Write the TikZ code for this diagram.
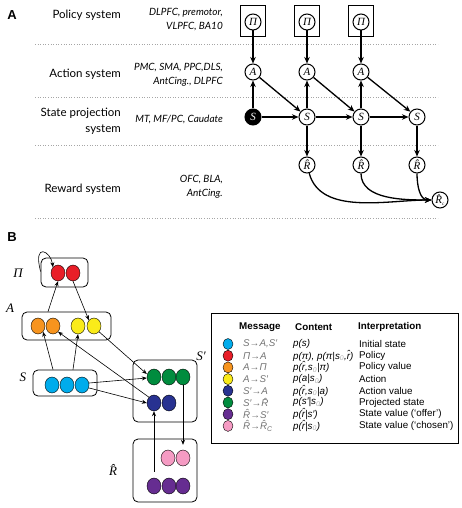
\documentclass[tikz,border=0pt]{standalone}
\usepackage{fontspec}
\setmainfont{Liberation Sans}
\newfontfamily\gillfont{Lato}
\newfontfamily\tms{Liberation Serif}
\usetikzlibrary{arrows.meta,shapes.geometric,calc}
\definecolor{cblue}{RGB}{0,172,236}
\definecolor{cred}{RGB}{232,30,40}
\definecolor{corange}{RGB}{247,148,30}
\definecolor{cyellow}{RGB}{250,235,25}
\definecolor{cdblue}{RGB}{40,50,145}
\definecolor{cgreen}{RGB}{0,140,62}
\definecolor{cpurple}{RGB}{102,45,145}
\definecolor{cpink}{RGB}{245,155,195}
\newcommand\zs{\textsubscript{\color{gray!60}0}}
\begin{document}
\begin{tikzpicture}[x=1pt,y=-1pt,
  var/.style={circle,draw,line width=1pt,minimum size=16pt,inner sep=0pt,fill=white,font=\tms\itshape\fontsize{11}{11}\selectfont},
  pibox/.style={draw,line width=0.8pt,minimum width=25pt,minimum height=31pt,inner sep=0pt},
  arrA/.style={line width=1.3pt,-{Stealth[length=6.5pt,width=5.5pt]}},
  sepline/.style={gray!70,dotted,line width=0.6pt},
  sys/.style={font=\gillfont\fontsize{11.5}{16}\selectfont,align=right,anchor=east,inner sep=0pt},
  reg/.style={font=\gillfont\itshape\fontsize{10}{14}\selectfont,align=right,anchor=east,inner sep=0pt},
  panel/.style={font=\bfseries\fontsize{13}{13}\selectfont,inner sep=0pt},
  grp/.style={draw,rounded corners=5pt,line width=0.8pt,inner sep=0pt},
  dot/.style={ellipse,draw=black,line width=0.4pt,minimum width=14pt,minimum height=16pt,inner sep=0pt},
  ldot/.style={ellipse,draw=black,line width=0.4pt,minimum width=10pt,minimum height=11pt,inner sep=0pt},
  arrB/.style={line width=0.6pt,-{Stealth[length=5pt,width=4pt]}},
  blbl/.style={font=\tms\itshape\fontsize{13}{13}\selectfont,inner sep=0pt},
  lhead/.style={font=\bfseries\fontsize{9.8}{11}\selectfont,anchor=west,inner sep=0pt},
  lmsg/.style={font=\itshape\fontsize{9.8}{11}\selectfont,text=gray!90!black,anchor=west,inner sep=0pt},
  lcon/.style={font=\itshape\fontsize{9.8}{11}\selectfont,anchor=west,inner sep=0pt},
  lint/.style={font=\fontsize{9.8}{11}\selectfont,anchor=west,inner sep=0pt}
]
\useasboundingbox (0,0) rectangle (461,508);

% ---------------- Panel A ----------------
\node[panel] (pA) at (12,15) {A};

\node[sys] (t1) at (121,15) {Policy system};
\node[reg] (g1) at (223,20) {DLPFC, premotor,\\VLPFC, BA10};
\node[sys] (t2) at (121,74) {Action system};
\node[reg] (g2) at (223,75) {PMC, SMA, PPC,DLS,\\AntCing., DLPFC};
\node[sys] (t3) at (121,121) {State projection\\system};
\node[reg] (g3) at (223,119) {MT, MF/PC, Caudate};
\node[sys] (t4) at (121,189) {Reward system};
\node[reg] (g4) at (223,187) {OFC, BLA,\\AntCing.};

\coordinate (l1a) at (35,44);  \coordinate (l1b) at (438,44);
\coordinate (l2a) at (35,97);  \coordinate (l2b) at (438,97);
\coordinate (l3a) at (35,145); \coordinate (l3b) at (438,145);
\coordinate (l4a) at (35,218); \coordinate (l4b) at (438,218);
\draw[sepline] (l1a) -- (l1b);
\draw[sepline] (l2a) -- (l2b);
\draw[sepline] (l3a) -- (l3b);
\draw[sepline] (l4a) -- (l4b);

\node[pibox] (b1) at (253,21) {};
\node[pibox] (b2) at (307,21) {};
\node[pibox] (b3) at (361,21) {};
\node[var] (p1) at (253,22) {Π};
\node[var] (p2) at (307,22) {Π};
\node[var] (p3) at (361,22) {Π};

\node[var] (a1) at (253,72) {A};
\node[var] (a2) at (307,72) {A};
\node[var] (a3) at (361,72) {A};

\node[var,fill=black,text=white] (s1) at (253,117) {S};
\node[var] (s2) at (307,117) {S};
\node[var] (s3) at (361,117) {S};
\node[var] (s4) at (417,117) {S};

\node[var] (r1) at (307,165) {R̂};
\node[var] (r2) at (361,165) {R̂};
\node[var] (r3) at (417,165) {R̂};
\node[var] (rc) at (440,200) {R̂\textsubscript{\fontsize{5}{5}\selectfont c}};

\draw[arrA] (p1) -- (a1);
\draw[arrA] (p2) -- (a2);
\draw[arrA] (p3) -- (a3);
\draw[arrA] (s1) -- (a1);
\draw[arrA] (s2) -- (a2);
\draw[arrA] (s3) -- (a3);
\draw[arrA] (a1) -- (s2);
\draw[arrA] (a2) -- (s3);
\draw[arrA] (a3) -- (s4);
\draw[arrA] (s1) -- (s2);
\draw[arrA] (s2) -- (s3);
\draw[arrA] (s3) -- (s4);
\draw[arrA] (s2) -- (r1);
\draw[arrA] (s3) -- (r2);
\draw[arrA] (s4) -- (r3);
\draw[arrA] (r1) to[out=-75,in=180,looseness=0.9] (rc);
\draw[arrA] (r2) to[out=-90,in=180,looseness=0.9] (rc);
\draw[arrA] (r3) to[out=-90,in=180,looseness=1] (rc);

% ---------------- Panel B ----------------
\node[panel] (pB) at (12,237) {B};

\node[grp,minimum width=47pt,minimum height=29pt] (PiB) at (64.5,272.5) {};
\node[grp,minimum width=89pt,minimum height=28pt] (AB) at (66.5,326) {};
\node[grp,minimum width=64pt,minimum height=26pt] (SB) at (65,383) {};
\node[grp,minimum width=64pt,minimum height=62pt] (SpB) at (165,391) {};
\node[grp,minimum width=64pt,minimum height=63pt] (RB) at (165,470.5) {};

\node[blbl] (lPi) at (18,273) {Π};
\node[blbl] (lA) at (10,308) {A};
\node[blbl] (lS) at (23,377) {S};
\node[blbl] (lSp) at (201,356) {S′};
\node[blbl] (lR) at (113,470) {R̂};

\node[dot,fill=cred] (rd1) at (58,273) {};
\node[dot,fill=cred] (rd2) at (73,273) {};
\node[dot,fill=corange] (or1) at (38,326) {};
\node[dot,fill=corange] (or2) at (53,326) {};
\node[dot,fill=cyellow] (ye1) at (78,326) {};
\node[dot,fill=cyellow] (ye2) at (94,326) {};
\node[dot,fill=cblue] (bl1) at (52,385) {};
\node[dot,fill=cblue] (bl2) at (67,385) {};
\node[dot,fill=cblue] (bl3) at (82,385) {};
\node[dot,fill=cgreen] (gr1) at (154,377) {};
\node[dot,fill=cgreen] (gr2) at (169,377) {};
\node[dot,fill=cgreen] (gr3) at (183,377) {};
\node[dot,fill=cdblue] (db1) at (154,403) {};
\node[dot,fill=cdblue] (db2) at (169,403) {};
\node[dot,fill=cpink] (pk1) at (168,458) {};
\node[dot,fill=cpink] (pk2) at (183,458) {};
\node[dot,fill=cpurple] (pu1) at (154,486) {};
\node[dot,fill=cpurple] (pu2) at (169,486) {};
\node[dot,fill=cpurple] (pu3) at (183,486) {};

\draw[arrB] ([yshift=1pt]PiB.west) .. controls +(-8,-30) and +(-2,-16) .. (rd1.north west);
\draw[arrB] ([xshift=-18.5pt]AB.north) -- (rd1.south);
\draw[arrB] (rd2.south) -- (ye2.north west);
\draw[arrB] ([xshift=-12pt]SB.north) -- (or1.south east);
\draw[arrB] ([xshift=8pt]SB.north) -- (ye1.south);
\draw[arrB] (db1.north west) -- (or2.south east);
\draw[arrB] (ye2.south east) -- ([yshift=3pt]gr1.west);
\draw[arrB] ([yshift=2pt]bl3.east) -- ([yshift=-1pt]gr1.west);
\draw[arrB] ([yshift=-3pt]bl3.east) -- (db1.west);
\draw[arrB,shorten >=5pt] (gr3.south) -- (pk2.north);
\draw[arrB,shorten <=6pt] (pu1.north) -- (db1.south);

% legend
\node[draw,line width=0.8pt,minimum width=247pt,minimum height=130pt,anchor=north west,inner sep=0pt] (leg) at (211,313) {};
\node[lhead] (h1) at (239,327) {Message};
\node[lhead] (h2) at (295,327) {Content};
\node[lhead] (h3) at (358,327) {Interpretation};

\node[ldot,fill=cblue] (d1) at (228,344) {};
\node[ldot,fill=cred] (d2) at (228,355.7) {};
\node[ldot,fill=corange] (d3) at (228,367.4) {};
\node[ldot,fill=cyellow] (d4) at (228,379.1) {};
\node[ldot,fill=cdblue] (d5) at (228,390.8) {};
\node[ldot,fill=cgreen] (d6) at (228,402.5) {};
\node[ldot,fill=cpurple] (d7) at (228,414.2) {};
\node[ldot,fill=cpink] (d8) at (228,425.9) {};

\node[lmsg] (m1) at (243,344) {S→A,S′};
\node[lmsg] (m2) at (243,355.7) {Π→A};
\node[lmsg] (m3) at (243,367.4) {A→Π};
\node[lmsg] (m4) at (243,379.1) {A→S′};
\node[lmsg] (m5) at (243,390.8) {S′→A};
\node[lmsg] (m6) at (243,402.5) {S′→R̂};
\node[lmsg] (m7) at (243,414.2) {R̂→S′};
\node[lmsg] (m8) at (243,425.9) {R̂→R̂\textsubscript{C}};

\node[lcon] (c1) at (293,344) {p(s)};
\node[lcon] (c2) at (293,355.7) {p(π), p(π|s\zs,r̂)};
\node[lcon] (c3) at (293,367.4) {p(r̂,s\zs|π)};
\node[lcon] (c4) at (293,379.1) {p(a|s\zs)};
\node[lcon] (c5) at (293,390.8) {p(r̂,s\zs|a)};
\node[lcon] (c6) at (293,402.5) {p(s′|s\zs)};
\node[lcon] (c7) at (293,414.2) {p(r̂|s′)};
\node[lcon] (c8) at (293,425.9) {p(r̂|s\zs)};

\node[lint] (i1) at (359,344) {Initial state};
\node[lint] (i2) at (359,355.7) {Policy};
\node[lint] (i3) at (359,367.4) {Policy value};
\node[lint] (i4) at (359,379.1) {Action};
\node[lint] (i5) at (359,390.8) {Action value};
\node[lint] (i6) at (359,402.5) {Projected state};
\node[lint] (i7) at (359,414.2) {State value (‘offer’)};
\node[lint] (i8) at (359,425.9) {State value (‘chosen’)};
\end{tikzpicture}
\end{document}
